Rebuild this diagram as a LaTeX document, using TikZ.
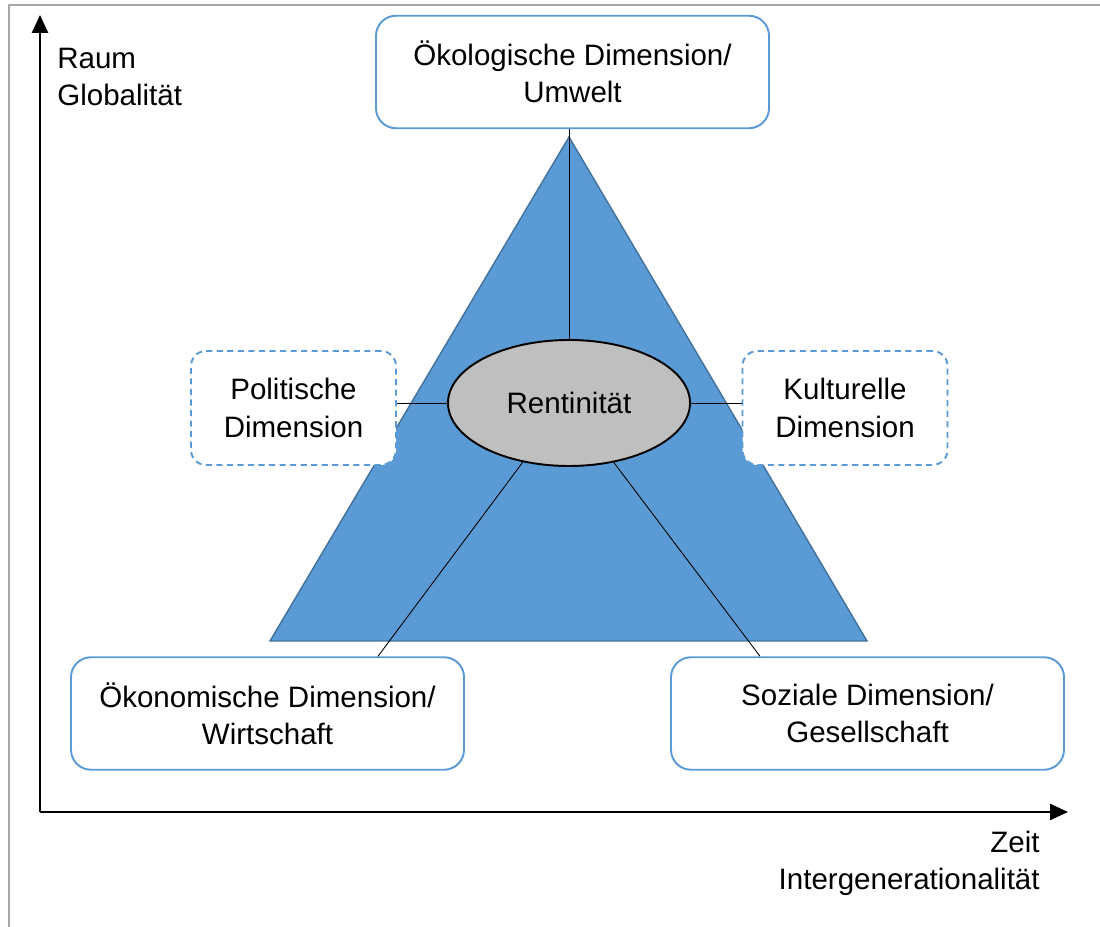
\documentclass[tikz,border=0pt]{standalone}
\usepackage{fontspec}
\setmainfont{Liberation Sans}
\usetikzlibrary{shapes.geometric, arrows.meta}

\definecolor{blau}{HTML}{5B9BD5}
\definecolor{dunkelblau}{HTML}{41719C}
\definecolor{grau}{HTML}{BFBFBF}
\definecolor{rahmen}{HTML}{A6A6A6}

\begin{document}
\begin{tikzpicture}[font=\fontsize{16.8}{21.2}\selectfont]
    \tikzstyle{dim}=[rectangle, rounded corners=0.4cm, draw=blau, line width=1.1pt, fill=white, align=center, minimum width=7.86cm, minimum height=2.25cm];
    \tikzstyle{nebendim}=[dim, rounded corners=0.3cm, dash pattern=on 3.5pt off 2.5pt, minimum width=4.1cm, minimum height=2.28cm];
    \tikzstyle{achse}=[line width=1.4pt, -{Triangle[length=0.36cm, width=0.32cm]}];
    \tikzstyle{verb}=[line width=0.5pt];

    \useasboundingbox (0,0) rectangle (22,18.54);
    \draw[rahmen, line width=1.1pt] (0.18,0) -- (0.18,18.44) -- (22,18.44);

    % Achsen
    \coordinate (ursprung) at (0.8, 2.3);
    \coordinate (raumspitze) at (0.8, 18.24);
    \coordinate (zeitspitze) at (21.36, 2.3);
    \draw[achse] (ursprung) -- (raumspitze);
    \draw[achse] (ursprung) -- (zeitspitze);
    \node[align=left, anchor=north west, inner sep=0] (raum) at (1.14, 17.58) {Raum\\Globalität};
    \node[align=right, anchor=north east, inner sep=0] (zeit) at (20.80, 1.92) {Zeit\\Intergenerationalität};

    % Dreieck
    \draw[dunkelblau, fill=blau, line width=0.8pt] (11.38, 15.80) -- (5.40, 5.72) -- (17.34, 5.72) -- cycle;

    \node (oeko) at (11.45, 17.10) [dim] {Ökologische Dimension/\\Umwelt};
    \node (wirt) at (5.35, 4.27) [dim] {Ökonomische Dimension/\\Wirtschaft};
    \node (soz) at (17.35, 4.27) [dim] {Soziale Dimension/\\Gesellschaft};
    \node (pol) at (5.87, 10.38) [nebendim] {Politische\\Dimension};
    \node (kult) at (16.90, 10.38) [nebendim] {Kulturelle\\Dimension};
    \node[ellipse, draw=black, line width=1.1pt, fill=grau, minimum width=4.84cm, minimum height=2.52cm] (kern) at (11.38, 10.48) {Rentinität};

    % Verbindungen
    \draw[verb] (kern.north) -- (kern.north |- oeko.south);
    \draw[verb] (kern.west) -- (kern.west -| pol.east);
    \draw[verb] (kern.east) -- (kern.east -| kult.west);
    \draw[verb] (kern.232) -- ([xshift=2.21cm]wirt.north);
    \draw[verb] (kern.307) -- ([xshift=-2.15cm]soz.north);

\end{tikzpicture}
\end{document}
